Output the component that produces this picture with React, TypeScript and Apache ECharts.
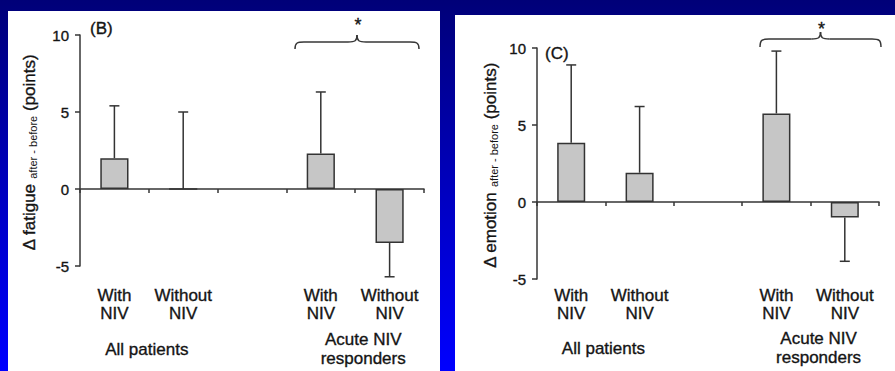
import React, { useEffect, useRef } from 'react';
import * as echarts from 'echarts';

// ---------- data ----------
const categories = ['With\nNIV', 'Without\nNIV', '', 'With\nNIV', 'Without\nNIV'];
const groupLabels = ['All patients', 'Acute NIV\nresponders'];
const yTickValues = [-5, 0, 5, 10];

// Panel B: change in fatigue (after - before)
const fatigueMean: (number | null)[] = [2.0, 0, null, 2.3, -3.5];
const fatigueErrEnd: (number | null)[] = [5.4, 5.0, null, 6.3, -5.7];

// Panel C: change in emotion (after - before)
const emotionMean: (number | null)[] = [3.85, 1.9, null, 5.75, -1.0];
const emotionErrEnd: (number | null)[] = [8.9, 6.2, null, 9.8, -3.85];

const FONT = "'Liberation Sans', Arial, Helvetica, sans-serif";
const TXT = '#141414';
const LINE = '#363636';
const LW = 1.5;
const TB = { textBorderColor: TXT, textBorderWidth: 0.35 };

type Panel = {
  tag: string;
  yMain: string;
  mean: (number | null)[];
  errEnd: (number | null)[];
  grid: { left: number; top: number; width: number; height: number };
  labelMargin: number;
  nameX: number;
  tagPos: [number, number];
  brace: { x0: number; x1: number; y: number; ye: number; yt: number };
  starY: number;
  groupY: number;
};

const panels: Panel[] = [
  {
    tag: '(B)',
    yMain: 'Δ fatigue ',
    mean: fatigueMean,
    errEnd: fatigueErrEnd,
    grid: { left: 80, top: 35, width: 344, height: 231 },
    labelMargin: 20,
    nameX: 28,
    tagPos: [90, 28],
    brace: { x0: 295, x1: 419, y: 42, ye: 49, yt: 35 },
    starY: 25,
    groupY: 349,
  },
  {
    tag: '(C)',
    yMain: 'Δ emotion ',
    mean: emotionMean,
    errEnd: emotionErrEnd,
    grid: { left: 537, top: 48, width: 342, height: 231 },
    labelMargin: 7,
    nameX: 489,
    tagPos: [545, 53],
    brace: { x0: 760, x1: 881, y: 39, ye: 47, yt: 32 },
    starY: 29,
    groupY: 348,
  },
];

function braceElements(b: Panel['brace']) {
  const { x0, x1, y, ye, yt } = b;
  const xm = (x0 + x1) / 2;
  const r = 9;
  const st = { stroke: LINE, lineWidth: LW, fill: null as any };
  return [
    { type: 'bezierCurve', shape: { x1: x0, y1: ye, cpx1: x0, cpy1: y + 1, cpx2: x0 + 2, cpy2: y, x2: x0 + r, y2: y }, style: st },
    { type: 'line', shape: { x1: x0 + r, y1: y, x2: xm - r, y2: y }, style: st },
    { type: 'bezierCurve', shape: { x1: xm - r, y1: y, cpx1: xm - 2, cpy1: y, cpx2: xm, cpy2: y - 1, x2: xm, y2: yt }, style: st },
    { type: 'bezierCurve', shape: { x1: xm, y1: yt, cpx1: xm, cpy1: y - 1, cpx2: xm + 2, cpy2: y, x2: xm + r, y2: y }, style: st },
    { type: 'line', shape: { x1: xm + r, y1: y, x2: x1 - r, y2: y }, style: st },
    { type: 'bezierCurve', shape: { x1: x1 - r, y1: y, cpx1: x1 - 2, cpy1: y, cpx2: x1, cpy2: y + 1, x2: x1, y2: ye }, style: st },
  ];
}

export default function App() {
  const ref = useRef<HTMLDivElement>(null);

  useEffect(() => {
    if (!ref.current) return;
    const chart = echarts.init(ref.current, undefined, { renderer: 'svg' });

    const grids: any[] = [];
    const xAxes: any[] = [];
    const yAxes: any[] = [];
    const series: any[] = [];

    panels.forEach((p, pi) => {
      grids.push({ ...p.grid, containLabel: false });
      yAxes.push({
        type: 'value',
        gridIndex: pi,
        min: yTickValues[0],
        max: yTickValues[yTickValues.length - 1],
        interval: 5,
        axisLine: { show: true, lineStyle: { color: LINE, width: LW } },
        axisTick: { show: true, length: 5, lineStyle: { color: LINE, width: LW } },
        axisLabel: { fontSize: 15, color: TXT, margin: 11, fontFamily: FONT, ...TB },
        splitLine: { show: false },
      });
      // axis line at zero with ticks
      xAxes.push({
        type: 'category',
        gridIndex: pi,
        data: categories.map((_, i) => String(i)),
        axisLine: { show: true, onZero: true, lineStyle: { color: LINE, width: LW } },
        axisTick: { show: true, length: 4, interval: 0, lineStyle: { color: LINE, width: LW } },
        axisLabel: { show: false },
        splitLine: { show: false },
      });
      // labels at bottom
      xAxes.push({
        type: 'category',
        gridIndex: pi,
        position: 'bottom',
        data: categories.map((_, i) => String(i)),
        axisLine: { show: false, onZero: false },
        axisTick: { show: false },
        axisLabel: {
          show: true,
          interval: 0,
          margin: p.labelMargin,
          fontSize: 17,
          lineHeight: 18,
          color: TXT,
          fontFamily: FONT,
          ...TB,
          formatter: (_v: string, idx: number) => categories[idx],
        },
        splitLine: { show: false },
      });
      series.push({
        type: 'bar',
        xAxisIndex: pi * 2,
        yAxisIndex: pi,
        barWidth: '41%',
        data: p.mean.map((v) => (v === null ? '-' : v)),
        itemStyle: { color: '#c6c6c6', borderColor: '#333333', borderWidth: LW },
        z: 2,
      });
      const errData: number[][] = [];
      p.mean.forEach((m, i) => {
        const e = p.errEnd[i];
        if (m !== null && e !== null) errData.push([i, m, e]);
      });
      series.push({
        type: 'custom',
        xAxisIndex: pi * 2,
        yAxisIndex: pi,
        clip: false,
        z: 3,
        data: errData,
        encode: { x: 0, y: [1, 2] },
        renderItem: (_params: any, api: any) => {
          const x = api.value(0);
          const m = api.value(1);
          const e = api.value(2);
          const p0 = api.coord([x, m]);
          const p1 = api.coord([x, e]);
          const cap = 5;
          const st = { stroke: '#333333', lineWidth: LW };
          return {
            type: 'group',
            children: [
              { type: 'line', shape: { x1: p0[0], y1: p0[1], x2: p1[0], y2: p1[1] }, style: st },
              { type: 'line', shape: { x1: p1[0] - cap, y1: p1[1], x2: p1[0] + cap, y2: p1[1] }, style: st },
            ],
          };
        },
      });
    });

    chart.setOption({
      animation: false,
      backgroundColor: 'transparent',
      textStyle: { fontFamily: FONT },
      grid: grids,
      xAxis: xAxes,
      yAxis: yAxes,
      series,
    });

    const graphics: any[] = [];
    panels.forEach((p, pi) => {
      const cx = (i: number) => chart.convertToPixel({ xAxisIndex: pi * 2 }, i) as unknown as number;
      const c0 = cx(0), c1 = cx(1), c3 = cx(3), c4 = cx(4);
      const gridMidY = p.grid.top + p.grid.height / 2;
      graphics.push(
        {
          type: 'text',
          x: p.tagPos[0],
          y: p.tagPos[1],
          style: { text: p.tag, fontSize: 17, fill: TXT, fontFamily: FONT, align: 'left', verticalAlign: 'middle', stroke: TXT, lineWidth: 0.35 },
        },
        {
          type: 'text',
          x: p.nameX,
          y: gridMidY + 2,
          rotation: Math.PI / 2,
          style: {
            text: `{m|${p.yMain}}{s|after - before}{m| (points)}`,
            align: 'center',
            verticalAlign: 'middle',
            fill: TXT,
            fontFamily: FONT,
            rich: {
              m: { fontSize: 17, fill: TXT, fontFamily: FONT, verticalAlign: 'bottom', lineHeight: 20, stroke: TXT, lineWidth: 0.35 },
              s: { fontSize: 11, fill: TXT, fontFamily: FONT, verticalAlign: 'bottom', lineHeight: 20 },
            },
          },
        },
        {
          type: 'text',
          x: (c0 + c1) / 2 - 2,
          y: p.groupY,
          style: { text: groupLabels[0], fontSize: 17, fill: TXT, fontFamily: FONT, align: 'center', verticalAlign: 'middle', stroke: TXT, lineWidth: 0.35 },
        },
        {
          type: 'text',
          x: (c3 + c4) / 2 + 8,
          y: p.groupY,
          style: { text: groupLabels[1], fontSize: 17, lineHeight: 19, fill: TXT, fontFamily: FONT, align: 'center', verticalAlign: 'middle', stroke: TXT, lineWidth: 0.35 },
        },
        {
          type: 'text',
          x: (p.brace.x0 + p.brace.x1) / 2 + 1,
          y: p.starY,
          style: { text: '*', fontSize: 18, fill: TXT, fontFamily: FONT, align: 'center', verticalAlign: 'middle', stroke: TXT, lineWidth: 0.35 },
        },
        { type: 'group', children: braceElements(p.brace) }
      );
    });

    chart.setOption({ graphic: graphics });

    return () => chart.dispose();
  }, []);

  return (
    <div
      style={{
        position: 'fixed',
        left: 0,
        top: 0,
        width: 895,
        height: 371,
        overflow: 'hidden',
        background: 'linear-gradient(to bottom, #000078 0%, #0000c4 55%, #0000ff 100%)',
      }}
    >
      <div style={{ position: 'absolute', left: 8, top: 11, width: 432, height: 370, background: '#ffffff' }} />
      <div style={{ position: 'absolute', left: 455, top: 15, width: 440, height: 366, background: '#ffffff' }} />
      <div ref={ref} style={{ position: 'absolute', left: 0, top: 0, width: 895, height: 371 }} />
    </div>
  );
}
